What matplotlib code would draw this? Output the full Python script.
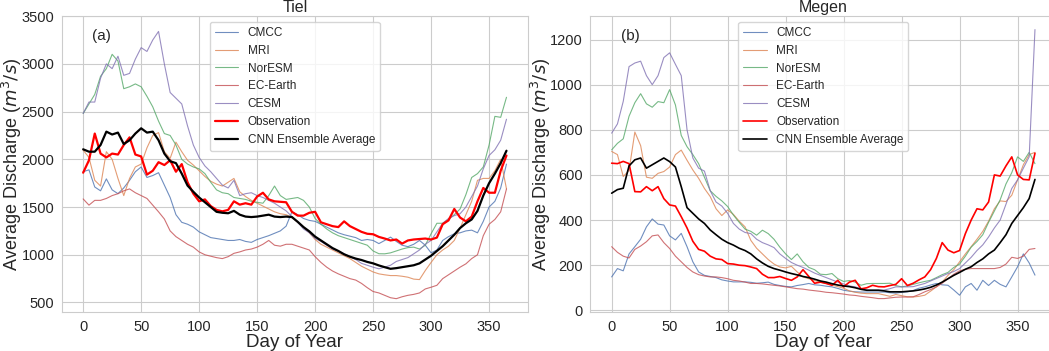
import numpy as np
import matplotlib
matplotlib.use('Agg')
import matplotlib.pyplot as plt
import seaborn as sns

sns.set_style('whitegrid')
plt.rcParams['font.family'] = ['Liberation Sans', 'DejaVu Sans']

# day of year, sampled every 5 days
days = np.arange(0, 366, 5)
models = ['CMCC', 'MRI', 'NorESM', 'EC-Earth', 'CESM']

# ---- Tiel ----
tiel_cmcc = [1870, 1890, 1710, 1670, 1795, 1680, 1640, 1700, 1780, 1870,
             1920, 1810, 1830, 1860, 1730, 1600, 1420, 1340, 1320, 1290,
             1240, 1210, 1180, 1170, 1160, 1150, 1150, 1160, 1140, 1130,
             1160, 1180, 1200, 1225, 1250, 1300, 1450, 1420, 1380, 1360,
             1350, 1320, 1290, 1260, 1230, 1210, 1195, 1180, 1150, 1160,
             1150, 1117, 1150, 1185, 1140, 1100, 1085, 1110, 1150, 1100,
             1020, 1050, 1150, 1190, 1220, 1230, 1250, 1258, 1230, 1350,
             1500, 1560, 1700, 1950]
tiel_mri = [2095, 2020, 1780, 1720, 2080, 2000, 1800, 1620, 1800, 1920,
            1950, 2120, 2250, 2280, 2080, 2010, 2180, 2080, 1990, 1940,
            1880, 1820, 1770, 1740, 1720, 1760, 1800, 1660, 1610, 1570,
            1540, 1510, 1480, 1450, 1430, 1420, 1390, 1340, 1290, 1230,
            1160, 1110, 1080, 1050, 1020, 990, 960, 920, 880, 850,
            820, 800, 790, 782, 782, 775, 765, 745, 740, 835,
            920, 1000, 1050, 1090, 1150, 1280, 1420, 1560, 1780, 1800,
            1800, 1880, 2000, 1690]
tiel_noresm = [2480, 2580, 2680, 2870, 2950, 3100, 3030, 2740, 2760, 2790,
               2760, 2660, 2550, 2400, 2270, 2250, 2150, 2000, 1950, 1920,
               1900, 1850, 1760, 1680, 1650, 1640, 1600, 1590, 1580, 1560,
               1550, 1540, 1620, 1720, 1620, 1580, 1590, 1600, 1570, 1500,
               1380, 1320, 1270, 1230, 1200, 1180, 1160, 1140, 1120, 1100,
               1040, 1011, 1010, 1020, 1040, 1060, 1075, 1080, 1060, 1100,
               1220, 1330, 1330, 1370, 1420, 1480, 1630, 1810, 1850, 1920,
               2150, 2450, 2440, 2650]
tiel_ecearth = [1585, 1520, 1570, 1570, 1590, 1620, 1640, 1670, 1690, 1650,
                1620, 1590, 1520, 1450, 1375, 1250, 1190, 1150, 1110, 1080,
                1030, 1000, 985, 970, 960, 980, 1015, 1030, 1050, 1060,
                1080, 1110, 1150, 1100, 1090, 1110, 1110, 1090, 1070, 1050,
                980, 920, 870, 830, 800, 775, 750, 735, 700, 655,
                615, 600, 575, 550, 540, 560, 575, 585, 600, 642,
                660, 680, 750, 790, 830, 870, 905, 960, 1000, 1200,
                1320, 1370, 1450, 1690]
tiel_cesm = [2480, 2600, 2600, 2850, 3000, 2950, 3080, 2880, 2900, 3050,
             3170, 3130, 3250, 3340, 3000, 2700, 2640, 2580, 2350, 2150,
             2020, 1930, 1870, 1800, 1730, 1700, 1780, 1620, 1640, 1650,
             1620, 1600, 1570, 1540, 1500, 1460, 1400, 1340, 1270, 1230,
             1170, 1140, 1100, 1060, 1040, 1010, 980, 950, 910, 890,
             870, 853, 870, 890, 930, 950, 970, 1010, 1050, 1110,
             1150, 1240, 1330, 1380, 1410, 1430, 1500, 1610, 1720, 1900,
             2040, 2100, 2200, 2420]
tiel_obs = [1860, 1990, 2270, 2060, 2020, 2060, 2050, 2150, 2230, 2050,
            2030, 1840, 1880, 1970, 1940, 1990, 1870, 1950, 1760, 1640,
            1560, 1580, 1510, 1470, 1455, 1470, 1560, 1525, 1540, 1525,
            1610, 1650, 1580, 1560, 1555, 1550, 1450, 1410, 1410, 1440,
            1450, 1340, 1320, 1300, 1290, 1350, 1300, 1270, 1240, 1220,
            1215, 1187, 1170, 1150, 1160, 1117, 1150, 1160, 1165, 1170,
            1160, 1180, 1320, 1360, 1480, 1390, 1350, 1400, 1560, 1700,
            1650, 1650, 1880, 2040]
tiel_cnn = [2105, 2080, 2080, 2150, 2290, 2260, 2280, 2160, 2200, 2270,
            2325, 2280, 2290, 2200, 2060, 1980, 1960, 1850, 1725, 1660,
            1600, 1550, 1500, 1450, 1440, 1435, 1460, 1420, 1400, 1395,
            1400, 1410, 1420, 1400, 1395, 1400, 1395, 1345, 1290, 1245,
            1190, 1150, 1110, 1070, 1040, 1005, 980, 960, 945, 925,
            910, 888, 870, 853, 860, 870, 880, 890, 910, 950,
            990, 1040, 1090, 1150, 1210, 1280, 1330, 1370, 1460, 1620,
            1750, 1850, 1960, 2090]

# ---- Megen ----
megen_cmcc = [148, 185, 175, 250, 282, 315, 370, 405, 382, 378,
              330, 312, 341, 282, 215, 170, 155, 150, 145, 135,
              130, 126, 126, 126, 124, 120, 122, 125, 115, 110,
              106, 104, 110, 114, 119, 113, 111, 107, 104, 97,
              89, 85, 82, 81, 81, 81, 81, 81, 78, 76,
              80, 82, 88, 98, 104, 112, 119, 113, 111, 90,
              67, 104, 119, 89, 133, 110, 133, 115, 104, 148,
              193, 250, 210, 156]
megen_mri = [704, 690, 593, 620, 790, 730, 590, 585, 607, 615,
             635, 690, 710, 665, 622, 585, 540, 504, 450, 420,
             445, 425, 395, 370, 310, 275, 250, 225, 205, 192,
             188, 195, 170, 148, 140, 132, 125, 119, 112, 105,
             98, 86, 80, 76, 74, 74, 74, 68, 62, 70,
             65, 60, 59, 62, 67, 85, 104, 125, 155, 180,
             215, 250, 282, 315, 350, 395, 450, 485, 482, 510,
             578, 645, 690, 700]
megen_noresm = [711, 740, 760, 860, 920, 960, 915, 900, 925, 920,
                978, 910, 775, 725, 690, 650, 590, 530, 505, 485,
                460, 422, 390, 360, 350, 333, 355, 340, 315, 280,
                250, 225, 250, 215, 190, 180, 160, 158, 163, 140,
                128, 132, 125, 111, 118, 119, 119, 119, 120, 110,
                104, 108, 115, 122, 128, 133, 145, 158, 168, 190,
                205, 240, 280, 305, 335, 390, 440, 490, 560, 610,
                680, 660, 700, 650]
megen_ecearth = [282, 257, 240, 232, 270, 285, 304, 330, 334, 300,
                 274, 240, 215, 190, 170, 158, 152, 148, 148, 145,
                 140, 133, 130, 125, 119, 119, 117, 114, 111, 108,
                 104, 100, 96, 94, 90, 87, 84, 80, 78, 75,
                 72, 68, 66, 62, 59, 56, 52, 52, 55, 58,
                 59, 59, 60, 70, 82, 92, 104, 120, 140, 160,
                 175, 182, 185, 185, 185, 185, 185, 190, 205, 235,
                 230, 240, 270, 274]
megen_cesm = [785, 826, 926, 1080, 1096, 1104, 1040, 1000, 1040, 1120,
              1141, 1090, 1040, 800, 675, 630, 617, 530, 480, 462,
              430, 385, 360, 345, 340, 315, 300, 290, 278, 250,
              230, 212, 200, 190, 178, 165, 155, 145, 135, 125,
              117, 108, 104, 96, 89, 89, 89, 90, 96, 104,
              104, 104, 105, 112, 119, 130, 141, 152, 163, 172,
              185, 210, 235, 265, 290, 325, 365, 400, 470, 540,
              578, 630, 680, 1244]
megen_obs = [652, 650, 660, 650, 526, 525, 548, 530, 548, 495,
             467, 462, 415, 365, 306, 270, 262, 240, 228, 225,
             207, 205, 200, 198, 192, 185, 160, 145, 145, 150,
             141, 133, 148, 180, 150, 120, 125, 119, 111, 133,
             104, 125, 133, 95, 100, 111, 105, 104, 110, 115,
             140, 110, 120, 135, 148, 180, 230, 300, 267, 255,
             265, 340, 400, 450, 445, 480, 600, 595, 640, 680,
             600, 580, 578, 696]
megen_cnn = [519, 535, 541, 640, 667, 675, 630, 645, 660, 675,
             659, 635, 548, 455, 430, 405, 385, 356, 335, 315,
             300, 289, 275, 265, 250, 228, 210, 195, 185, 178,
             170, 163, 157, 150, 145, 138, 130, 125, 118, 112,
             108, 105, 100, 93, 89, 89, 89, 86, 82, 82,
             82, 84, 86, 90, 95, 102, 112, 125, 140, 155,
             168, 182, 193, 212, 228, 250, 267, 300, 335, 385,
             420, 455, 495, 580]

colors = sns.color_palette('deep', 5)


def draw(ax, model_series, obs, cnn, title, tag, lw_main):
    for name, vals, c in zip(models, model_series, colors):
        ax.plot(days, vals, color=c, lw=0.8, alpha=0.8, label=name)
    ax.plot(days, obs, color='red', lw=lw_main, label='Observation')
    ax.plot(days, cnn, color='black', lw=lw_main, label='CNN Ensemble Average')
    ax.set_title(title, fontsize=11.5, pad=3)
    ax.set_xlabel('Day of Year', fontsize=13.5, labelpad=0)
    ax.set_ylabel('Average Discharge ($m^3/s$)', fontsize=13)
    ax.yaxis.set_label_coords(-0.081, 0.5)
    ax.tick_params(labelsize=10.5, pad=2)
    ax.text(0.065, 0.955, tag, transform=ax.transAxes, fontsize=11, va='top')
    ax.legend(loc='upper center', fontsize=8.5)


fig = plt.figure(figsize=(10.49, 3.51), dpi=100)
ax1 = fig.add_axes([0.0591, 0.111, 0.4439, 0.843])
ax2 = fig.add_axes([0.5629, 0.111, 0.4439, 0.843])

draw(ax1, [tiel_cmcc, tiel_mri, tiel_noresm, tiel_ecearth, tiel_cesm],
     tiel_obs, tiel_cnn, 'Tiel', '(a)', 1.6)
ax1.set_yticks([500, 1000, 1500, 2000, 2500, 3000, 3500])

draw(ax2, [megen_cmcc, megen_mri, megen_noresm, megen_ecearth, megen_cesm],
     megen_obs, megen_cnn, 'Megen', '(b)', 1.2)
ax2.set_yticks([0, 200, 400, 600, 800, 1000, 1200])

fig.savefig('out.png', dpi=100)
